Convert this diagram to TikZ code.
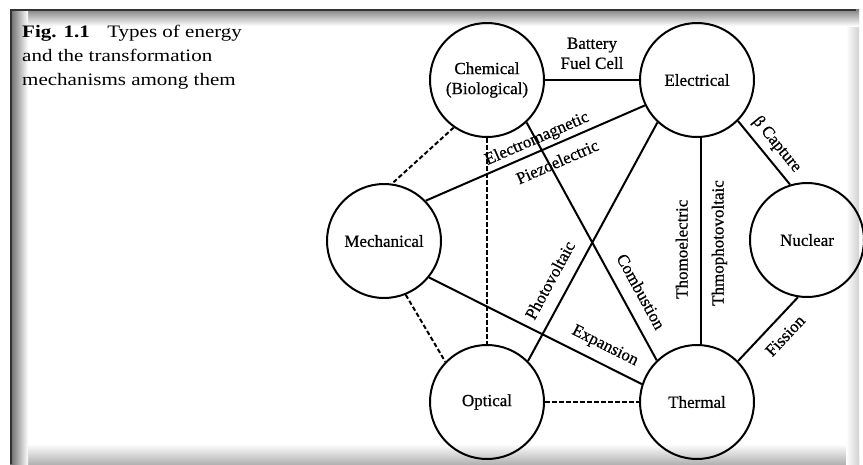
\documentclass[tikz,border=0pt]{standalone}
\usepackage{fontspec}
\setmainfont{Liberation Serif}
\newfontfamily\capfont[FakeStretch=1.2]{Liberation Serif}
\newfontfamily\figfont[FakeBold=0.6]{Liberation Serif}
\usetikzlibrary{positioning}

\begin{document}
\begin{tikzpicture}[x=1pt, y=-1pt,
  every node/.style={font=\figfont\fontsize{17}{20}\selectfont},
  en/.style={draw, circle, line width=2pt, minimum size=114pt, inner sep=0pt, align=center},
  conv/.style={line width=2pt},
  weak/.style={line width=2pt, dash pattern=on 4.5pt off 2.5pt},
  lab/.style={sloped, inner sep=1pt, outer sep=9.5pt, text height=12pt, text depth=3pt},
  figcap/.style={font=\capfont\fontsize{17.5}{24}\selectfont, align=left, inner sep=0pt}]
\useasboundingbox (0,0) rectangle (863,464);
% frame with inner shadow
\fill[white] (0,0) rectangle (863,464);
\shade[top color=white, bottom color=black!30] (10,444) rectangle (859,464);
\shade[left color=white, right color=black!18] (846,9) rectangle (859,464);
\shade[top color=black!50, bottom color=white] (10,9) rectangle (859,26);
\shade[left color=black!60, right color=white] (10,9) rectangle (28,464);
\draw[black!80, line width=1.5pt] (10.75,464) -- (10.75,9.75) -- (856,9.75);
\node[figcap, anchor=north west] (title) at (22,25) {\textbf{Fig. 1.1}\quad Types of energy\\and the transformation\\mechanisms among them};
% energy forms
\node[en] (chem) at (487,80) {Chemical\\(Biological)};
\node[en, right=94pt of chem] (elec) {Electrical};
\node[en, below=206pt of chem] (opt) {Optical};
\node[en, right=94pt of opt] (therm) {Thermal};
\node[en] (mech) at (384,241) {Mechanical};
\node[en] (nucl) at (807,240) {Nuclear};
% transformations
\draw[conv] (chem) -- node[above, inner sep=2pt, outer sep=9pt, align=center] (batt) {Battery\\Fuel Cell} (elec);
\draw[weak] (chem.235) -- (mech.82);
\draw[weak] (chem) -- (opt);
\draw[conv] (chem.313) -- node[lab, pos=.75, above] {Combustion} (therm.134);
\draw[conv] (mech.44) -- node[lab, pos=.53, above, outer sep=4pt] {Electromagnetic}
  node[lab, pos=.57, below] {Piezoelectric} (elec.206);
\draw[conv] (opt.45) -- node[lab, pos=.3, above] {Photovoltaic} (elec.227);
\draw[conv] (therm.86) -- node[lab, pos=.46, above] {Thomoelectric}
  node[lab, pos=.49, below] {Thmophotovoltaic} (elec.274);
\draw[conv] (elec.-45) -- node[lab, pos=.52, above, outer sep=7pt] {β Capture} (nucl.107);
\draw[conv] (mech.-39) -- node[lab, pos=.79, above] {Expansion} (therm.162);
\draw[weak] (mech.-68) -- (opt.136);
\draw[weak] (opt) -- (therm);
\draw[conv] (therm.45) -- node[lab, pos=.58, below] {Fission} (nucl.261);
\end{tikzpicture}
\end{document}
